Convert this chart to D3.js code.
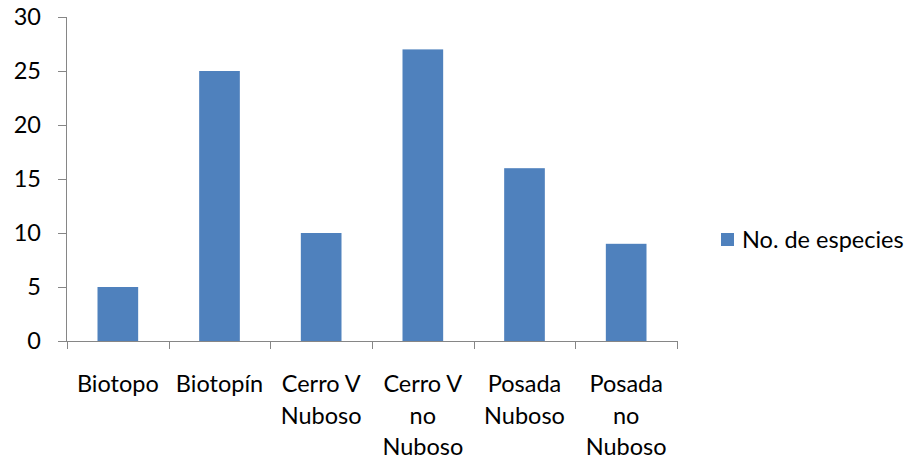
<!DOCTYPE html>
<html>
<head>
<meta charset="utf-8">
<script src="https://cdn.jsdelivr.net/npm/d3@7"></script>
<style>
  html, body { margin: 0; padding: 0; background: #fff; }
  svg { display: block; }
  text { font-family: Lato, "Open Sans", sans-serif; fill: #000; }
</style>
</head>
<body>
<svg id="chart" width="912" height="465"></svg>
<script>
// Number of species recorded per site
const categories = [
  ["Biotopo"],
  ["Biotopín"],
  ["Cerro V", "Nuboso"],
  ["Cerro V", "no", "Nuboso"],
  ["Posada", "Nuboso"],
  ["Posada", "no", "Nuboso"]
];
const especies = [5, 25, 10, 27, 16, 9];
const yTicks = [0, 5, 10, 15, 20, 25, 30];
const seriesName = "No. de especies";

const barColor = "#4F81BD";
const axisColor = "#868686";
const fontSize = 23.5;

const svg = d3.select("#chart");
const plot = { left: 67, right: 677, top: 17, bottom: 341 };

const keys = categories.map(c => c.join(" "));

const x = d3.scaleBand()
  .domain(keys)
  .range([plot.left, plot.right])
  .paddingInner(0.6)
  .paddingOuter(0.3);

const y = d3.scaleLinear()
  .domain([0, 30])
  .range([plot.bottom, plot.top]);

// Bars
svg.append("g")
  .selectAll("rect")
  .data(especies)
  .join("rect")
  .attr("x", (d, i) => x(keys[i]))
  .attr("width", x.bandwidth())
  .attr("y", d => y(d))
  .attr("height", d => y(0) - y(d))
  .attr("fill", barColor);

// Y axis
const yAxis = svg.append("g")
  .attr("transform", `translate(${plot.left},0)`)
  .call(d3.axisLeft(y).tickValues(yTicks).tickSize(9).tickPadding(17));
yAxis.select(".domain").attr("stroke", axisColor).attr("d", `M-0.5,${plot.top}V${plot.bottom}`);
yAxis.selectAll(".tick line").attr("stroke", axisColor);
yAxis.selectAll(".tick text")
  .attr("font-size", fontSize)
  .attr("font-family", "Lato, sans-serif")
  .attr("fill", "#000");

// X axis: boundary ticks between categories
const bounds = d3.range(keys.length + 1).map(i => plot.left + i * (plot.right - plot.left) / keys.length);
const xg = svg.append("g");
xg.append("line")
  .attr("x1", plot.left - 9).attr("x2", plot.right)
  .attr("y1", plot.bottom + 0.5).attr("y2", plot.bottom + 0.5)
  .attr("stroke", axisColor);
xg.selectAll("line.b")
  .data(bounds)
  .join("line")
  .attr("class", "b")
  .attr("x1", d => Math.round(d) + 0.5).attr("x2", d => Math.round(d) + 0.5)
  .attr("y1", plot.bottom).attr("y2", plot.bottom + 8)
  .attr("stroke", axisColor);

// Category labels
const labels = svg.append("g")
  .selectAll("text")
  .data(categories)
  .join("text")
  .attr("text-anchor", "middle")
  .attr("font-size", fontSize)
  .attr("x", (d, i) => x(keys[i]) + x.bandwidth() / 2)
  .attr("y", 392);
labels.selectAll("tspan")
  .data(d => d)
  .join("tspan")
  .attr("x", function () { return this.parentNode.getAttribute("x"); })
  .attr("dy", (d, i) => i === 0 ? 0 : 31.5)
  .text(d => d);

// Legend
const legend = svg.append("g").attr("transform", "translate(721,233)");
legend.append("rect").attr("width", 13).attr("height", 13).attr("fill", barColor);
legend.append("text")
  .attr("x", 21).attr("y", 15)
  .attr("font-size", fontSize)
  .text(seriesName);
</script>
</body>
</html>
